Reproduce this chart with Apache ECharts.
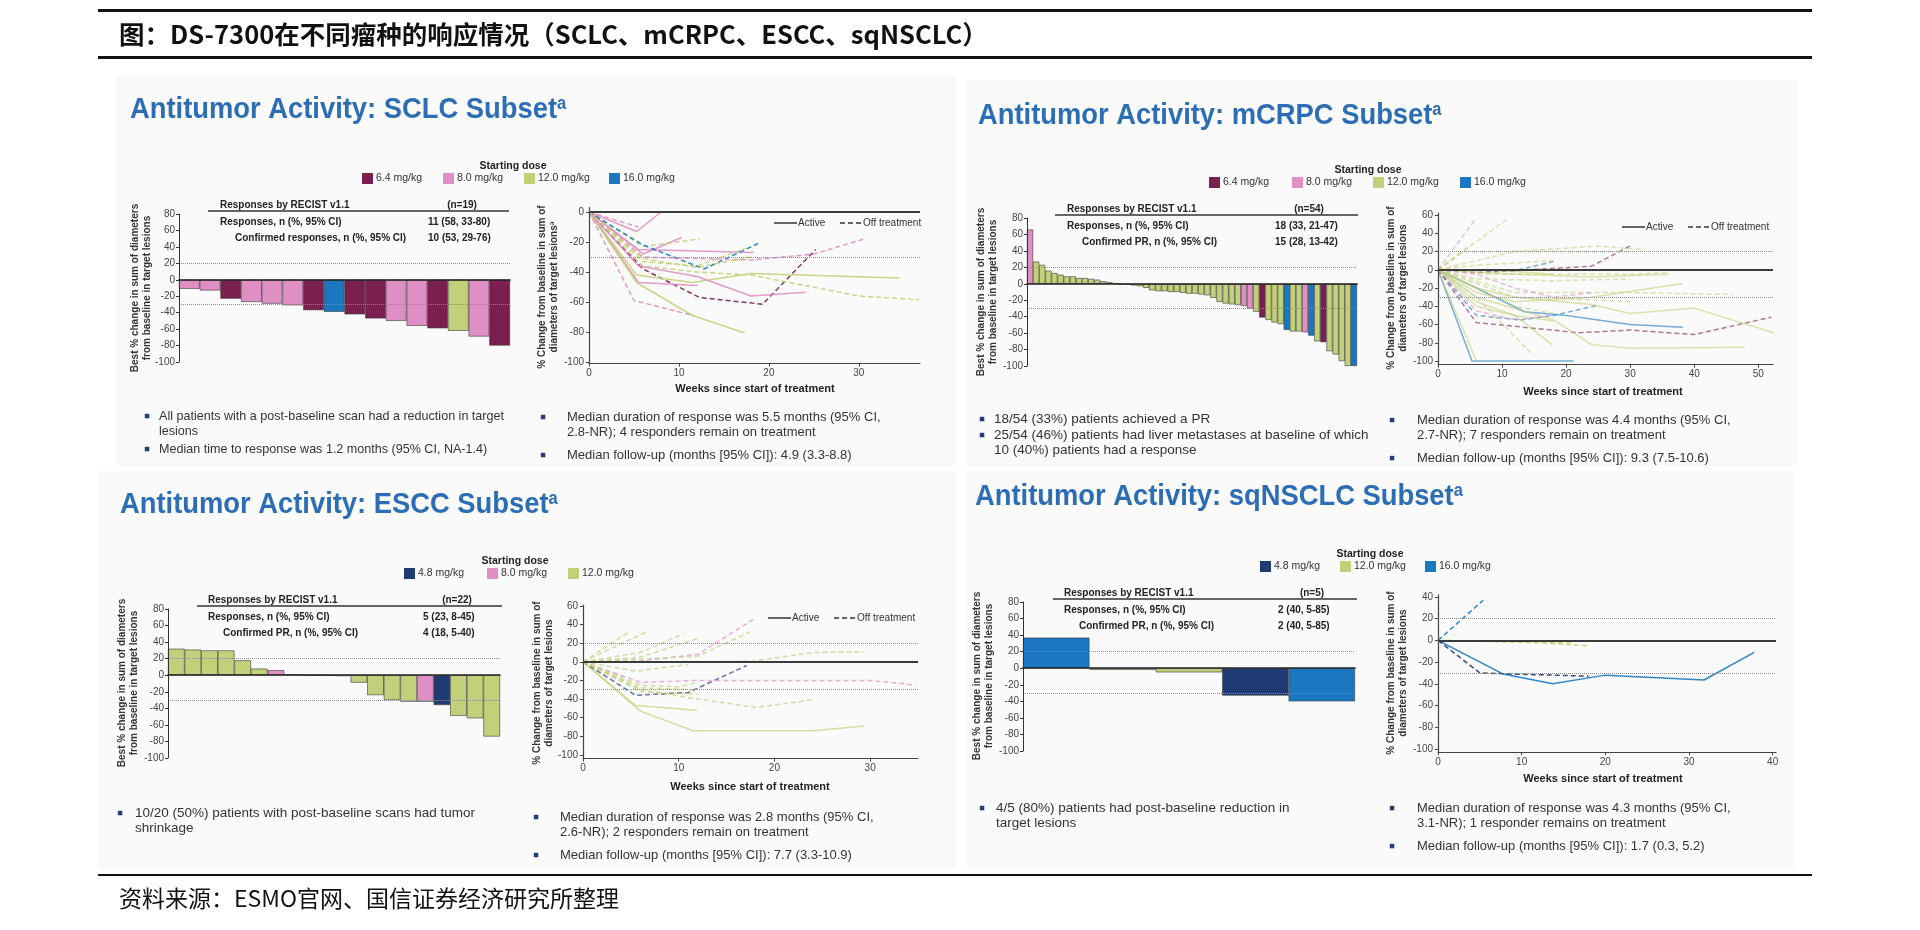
<!DOCTYPE html>
<html><head><meta charset="utf-8">
<script src="https://cdn.jsdelivr.net/npm/echarts@6/dist/echarts.min.js"></script>
<style>html,body{margin:0;padding:0;background:#fff;}#c{width:1920px;height:930px;}</style>
</head><body><div id="c"></div>
<script>
// ================= DATA =================
const doseLabels = ['4.8', '6.4', '8.0', '12.0', '16.0'];

// SCLC waterfall (best % change)
const sclcBarValues = [-11, -13, -23, -27, -29, -31, -37, -39, -42, -47, -50, -56, -59, -62, -69, -80];
const sclcBarDoses  = ['8.0','8.0','6.4','8.0','8.0','8.0','6.4','16.0','6.4','6.4','8.0','8.0','6.4','12.0','8.0','6.4'];

// mCRPC waterfall
const mcrpcBarValues = [66, 27, 23, 16, 13, 11, 9, 9, 7, 7, 6, 5, 3, 2,
  0.5, -1, -1, -2, -3, -5, -8, -9, -9, -10, -10, -11, -12, -12, -13, -14, -17, -22, -24, -25, -26,
  -27, -30, -34, -41, -44, -47, -49, -56, -58, -58, -59, -63, -70, -71, -82, -86, -94, -100, -100];
const mcrpcBarDoses = ['8.0',
  '12.0','12.0','12.0','12.0','12.0','12.0','12.0','12.0','12.0','12.0','12.0','12.0','12.0',
  '12.0','12.0','12.0','12.0','12.0','12.0','12.0','12.0','12.0','12.0','12.0','12.0','12.0','12.0','12.0','12.0','12.0','12.0','12.0','12.0','12.0',
  '8.0','8.0','12.0','6.4','12.0','12.0','12.0','16.0','12.0','12.0','8.0','16.0','12.0','6.4','12.0','12.0','12.0','12.0','16.0'];

// ESCC waterfall
const esccBarValues = [32, 31, 30, 30, 18, 8, 6, 1, 0, 0, -1, -9, -24, -30, -32, -32, -36, -49, -52, -74];
const esccBarDoses  = ['12.0','12.0','12.0','12.0','12.0','12.0','8.0','12.0','12.0','12.0','12.0','12.0','12.0','12.0','12.0','8.0','4.8','12.0','12.0','12.0'];

// sqNSCLC waterfall
const sqBarValues = [37, -2, -5, -33, -40];
const sqBarDoses  = ['16.0', '12.0', '12.0', '4.8', '16.0'];

// Spider plots: [dose, 'on' (active) | 'off' (off treatment), [[week, % change], ...]]
const sclcLines = [
  ['8.0','on',[[0,0],[5.3,-13],[8,0]]],
  ['8.0','off',[[0,0],[5.5,-10]]],
  ['8.0','on',[[0,0],[6,-28],[10.3,-17]]],
  ['12.0','off',[[0,0],[6,-23],[12.3,-18]]],
  ['8.0','on',[[0,0],[5.5,-25],[18.3,-27]]],
  ['16.0','off',[[0,0],[6,-22],[12.8,-38],[18.8,-21]]],
  ['12.0','off',[[0,0],[6,-33],[12,-36],[17.5,-24]]],
  ['8.0','off',[[0,0],[6,-30],[18,-32],[25,-28],[30.6,-18]]],
  ['6.4','off',[[0,0],[6,-38],[12.3,-57],[19.3,-61.5],[25.2,-25]]],
  ['12.0','on',[[0,0],[5.3,-42],[11.5,-47],[18,-41],[34.5,-44]]],
  ['12.0','off',[[0,0],[6,-36],[12,-40],[18,-42],[30,-56],[36.7,-58.5]]],
  ['8.0','on',[[0,0],[5.5,-47],[12.1,-49]]],
  ['8.0','on',[[0,0],[5.5,-36],[12,-43],[18,-56],[24.1,-53.5]]],
  ['12.0','on',[[0,0],[5.3,-47],[11.5,-69],[17.3,-80.7]]],
  ['8.0','off',[[0,0],[5,-59],[11.6,-69]]],
  ['12.0','off',[[0,0],[6,-31],[12,-37],[18,-30]]]
];
const mcrpcLines = [
  ['16.0','on',[[0,0],[5.3,-100],[21.2,-100]]],
  ['12.0','on',[[0,0],[6,-100]]],
  ['16.0','on',[[0,0],[6,-20],[13.5,-46],[20,-50],[30,-60],[38.2,-63]]],
  ['6.4','off',[[0,0],[6,-58],[12,-62],[22,-69],[30,-66],[40,-71],[52,-52]]],
  ['16.0','off',[[0,0],[6,-50],[13,-55],[18,-50],[24.9,-39]]],
  ['6.4','off',[[0,0],[6,-3],[12,-1],[24,4],[30.1,26.5]]],
  ['16.0','off',[[0,0],[12,-1],[18,9]]],
  ['8.0','off',[[0,0],[5.8,55]]],
  ['12.0','off',[[0,0],[10.7,55]]],
  ['12.0','off',[[0,0],[6,-30],[14.9,-94]]],
  ['12.0','on',[[0,0],[6,-35],[12,-50],[17.8,-82]]],
  ['12.0','on',[[0,0],[6,-30],[18,-55],[24,-82],[30,-86],[47.9,-85]]],
  ['12.0','on',[[0,0],[6,-20],[12,-30],[24,-38],[30,-48],[40,-42],[52.4,-69]]],
  ['12.0','on',[[0,0],[6,-25],[12,-35],[24,-30],[38.2,-15]]],
  ['12.0','off',[[0,0],[6,10],[12,20],[25,26],[32,22]]],
  ['12.0','off',[[0,0],[4,20],[12,20],[30,20]]],
  ['12.0','off',[[0,0],[12,-25],[30,-25],[46,-27]]],
  ['12.0','off',[[0,0],[6,5],[18,10]]],
  ['12.0','off',[[0,0],[8,-5],[30,-5],[36,-3]]],
  ['12.0','off',[[0,0],[6,-10],[18,-12],[30,-10]]],
  ['12.0','on',[[0,0],[6,-40],[12,-50],[18,-56]]],
  ['12.0','off',[[0,0],[6,-20],[12,-40],[18,-48]]],
  ['12.0','off',[[0,0],[5,27]]],
  ['12.0','on',[[0,0],[12,-5],[24,-8],[36,-5]]],
  ['8.0','off',[[0,0],[6,-45],[12,-55],[18,-50]]],
  ['12.0','off',[[0,0],[6,-15],[12,-30],[24,-33],[30,-35]]],
  ['12.0','on',[[0,0],[6,0],[12,-2],[18,-5]]],
  ['8.0','off',[[0,0],[6,-5],[12,-20],[18,-30],[24,-25]]]
];
const esccLines = [
  ['12.0','on',[[0,0],[5.5,-47],[11.9,-52]]],
  ['12.0','on',[[0,0],[6,-53],[11.5,-74],[24,-74],[29.4,-69]]],
  ['4.8','off',[[0,0],[5.5,-36],[11,-33],[17.1,-4]]],
  ['8.0','off',[[0,0],[6,-22],[12,-20],[24,-20],[30,-20],[34.8,-25]]],
  ['12.0','off',[[0,0],[6,-30],[12,-40],[18,-49],[24,-41]]],
  ['12.0','off',[[0,0],[5.5,-10],[11,-3]]],
  ['8.0','off',[[0,0],[6,1],[12,8],[18.1,47.5]]],
  ['12.0','off',[[0,0],[6,3],[12,6],[17.4,32]]],
  ['12.0','off',[[0,0],[4.8,32]]],
  ['12.0','off',[[0,0],[6.8,33]]],
  ['12.0','off',[[0,0],[6,10],[10.5,30]]],
  ['12.0','off',[[0,0],[6,5],[12,25]]],
  ['12.0','off',[[0,0],[12,0],[18,1],[24,10],[29.3,10.5]]],
  ['12.0','off',[[0,0],[6,-28],[12,-30]]],
  ['12.0','off',[[0,0],[6,-25],[10,-27],[12,-22]]],
  ['12.0','off',[[0,0],[6,-32],[12,-35]]]
];
const sqLines = [
  ['16.0','on',[[0,0],[7.8,-31],[13.7,-40],[20,-32],[31.8,-36.5],[37.8,-11]]],
  ['4.8','off',[[0,0],[5,-30],[18,-33]]],
  ['16.0','off',[[0,0],[5.4,37]]],
  ['12.0','off',[[0,0],[12,-2],[17.9,-5]]],
  ['12.0','off',[[0,0],[8,-1],[16,-2]]]
];

const spTicksY1 = [-100, -80, -60, -40, -20, 0];
const spTicksY2 = [-100, -80, -60, -40, -20, 0, 20, 40, 60];
const spTicksY3 = [-100, -80, -60, -40, -20, 0, 20, 40];
const spTicksX1 = [0, 10, 20, 30];
const spTicksX2 = [0, 10, 20, 30, 40, 50];
const spTicksX3 = [0, 10, 20, 30, 40];

// ================= STYLE / LAYOUT =================
const DOSE_COLORS = {'4.8':'#1f3b73','6.4':'#7b1f50','8.0':'#e08fc5','12.0':'#c3d07a','16.0':'#1b78c0'};
const SANS = "'Liberation Sans', Arial, Helvetica, sans-serif";
const CJK = "'Noto Sans CJK SC', sans-serif";
const BLUE = '#2c6db5';

const mctx = document.createElement('canvas').getContext('2d');
function fitScale(str, font, target) { mctx.font = font; return target / mctx.measureText(str).width; }
const TITLE_FONT = 'bold 30px ' + SANS;
const TITLE_SX = fitScale('Antitumor Activity: SCLC Subset', TITLE_FONT, 427);
const NARROW_FONT = 'normal 13.5px ' + SANS;
const NARROW_SX = fitScale('All patients with a post-baseline scan had a reduction in target', NARROW_FONT, 345);

const grids = [], xAxes = [], yAxes = [], series = [];

function addWaterfall(g, values, doses) {
  const idx = grids.length;
  grids.push({left: g[0], top: g[1], width: g[2], height: g[3]});
  xAxes.push({type:'category', gridIndex: idx, z: 5, data: values.map((v, i) => 'P' + (i + 1)),
    axisLine:{show:true, onZero:true, lineStyle:{color:'#222', width:1.6}},
    axisTick:{show:false}, axisLabel:{show:false}, splitLine:{show:false}});
  yAxes.push({type:'value', gridIndex: idx, z: 5, min:-100, max:80, interval:20,
    axisLine:{show:true, onZero:false, lineStyle:{color:'#333', width:1}},
    axisTick:{show:true, length:3, lineStyle:{color:'#333'}},
    axisLabel:{fontSize:10, color:'#444', margin:4, fontFamily:SANS},
    splitLine:{show:false}});
  series.push({type:'bar', xAxisIndex: idx, yAxisIndex: idx, barCategoryGap:'0%',
    data: values.map((v, i) => ({value: v, itemStyle:{color: DOSE_COLORS[doses[i]]}})),
    itemStyle:{borderColor:'#3a3a3a', borderWidth:0.6}, silent:true,
    markLine:{silent:true, symbol:'none', label:{show:false},
      lineStyle:{color:'#8a8a8a', type:'dotted', width:1},
      data:[{yAxis:20},{yAxis:-30}]}});
}

function addSpider(g, xr, yr, xTicks, yTicks, lines, refs, op) {
  const idx = grids.length;
  grids.push({left: g[0], top: g[1], width: g[2], height: g[3]});
  const axisCommon = (ticks) => ({
    z: 5,
    axisLine:{show:true, onZero:false, lineStyle:{color:'#444', width:1.2}},
    axisTick:{show:true, length:3, customValues: ticks, lineStyle:{color:'#444'}},
    axisLabel:{fontSize:10, color:'#444', margin:5, fontFamily:SANS, customValues: ticks},
    splitLine:{show:false}});
  xAxes.push(Object.assign({type:'value', gridIndex: idx, min: xr[0], max: xr[1]}, axisCommon(xTicks)));
  yAxes.push(Object.assign({type:'value', gridIndex: idx, min: yr[0], max: yr[1]}, axisCommon(yTicks)));
  const ml = {silent:true, symbol:'none', label:{show:false},
    data: [{yAxis:0, lineStyle:{color:'#3a3a3a', width:1.8, type:'solid'}}]
      .concat(refs.map(r => ({yAxis: r, lineStyle:{color:'#8a8a8a', width:1, type:'dotted'}})))};
  lines.forEach((ln, i) => {
    series.push({type:'line', xAxisIndex: idx, yAxisIndex: idx, data: ln[2], symbol:'none', silent:true,
      lineStyle:{color: DOSE_COLORS[ln[0]], width:1.5, opacity: op, type: ln[1] === 'off' ? [5, 3] : 'solid'},
      markLine: i === 0 ? ml : undefined, z: 3});
  });
}

addWaterfall([179, 214, 331, 148], sclcBarValues, sclcBarDoses);
addSpider([589, 207.5, 331, 156], [0, 36.8], [-101, 3], spTicksX1, spTicksY1, sclcLines, [-30], 0.9);
addWaterfall([1027, 218, 330, 148], mcrpcBarValues, mcrpcBarDoses);
addSpider([1438, 213.2, 335, 151.5], [0, 52.3], [-104, 62], spTicksX2, spTicksY2, mcrpcLines, [20, -30], 0.6);
addWaterfall([168, 609, 332, 149], esccBarValues, esccBarDoses);
addSpider([583, 605, 335, 153.6], [0, 35], [-104, 61], spTicksX1, spTicksY2, esccLines, [20, -30], 0.7);
addWaterfall([1023, 602, 332, 149], sqBarValues, sqBarDoses);
addSpider([1438, 594.8, 338, 157.4], [0, 40.4], [-103, 42], spTicksX3, spTicksY3, sqLines, [20, -30], 0.9);

// ================= GRAPHICS (text, rules, legends) =================
const G = [];
function rect(x, y, w, h, fill, z) { G.push({type:'rect', silent:true, z: z, shape:{x, y, width:w, height:h}, style:{fill}}); }
function line(x1, y1, x2, y2, stroke, w, dash) { G.push({type:'line', silent:true, z: 8, shape:{x1, y1, x2, y2}, style:{stroke, lineWidth: w, lineDash: dash || null}}); }
function text(x, y, s, o) {
  o = o || {};
  const st = {text: s, fill: o.color || '#333',
    font: (o.weight || 'normal') + ' ' + (o.size || 10) + 'px ' + (o.family || SANS),
    textAlign: o.align || 'left', textVerticalAlign: o.valign || 'middle',
    align: o.align || 'left', verticalAlign: o.valign || 'middle'};
  if (o.lh) st.lineHeight = o.lh;
  const el = {type:'text', silent:true, z: 10, x, y, rotation: o.rot || 0, style: st};
  if (o.sx) el.scaleX = o.sx;
  G.push(el);
}
function title(x, y, s) {
  G.push({type:'text', silent:true, z: 10, x, y, scaleX: TITLE_SX, style:{
    text: '{t|' + s + '}{s|a}', textVerticalAlign:'middle', verticalAlign:'middle',
    rich:{t:{fontSize:30, fontWeight:'bold', fontFamily: SANS, fill: BLUE},
          s:{fontSize:18, fontWeight:'bold', fontFamily: SANS, fill: BLUE, verticalAlign:'top'}}}});
}
function legend(cx, cy, xs, doses) {
  text(cx, cy - 12, 'Starting dose', {size:10.5, weight:'bold', color:'#222', align:'center'});
  doses.forEach((d, i) => {
    rect(xs[i], cy - 5, 11, 11, DOSE_COLORS[d], 6);
    text(xs[i] + 14, cy + 0.5, d + ' mg/kg', {size:10.5, color:'#333'});
  });
}
function table(x1, x2, lx, vx, hy, n, rows) {
  text(lx, hy, 'Responses by RECIST v1.1', {size:10, weight:'bold', color:'#222'});
  text(vx + 34, hy, n, {size:10, weight:'bold', color:'#222', align:'center'});
  line(x1, hy + 6, x2, hy + 6, '#333', 1.3);
  text(lx, hy + 17, rows[0][0], {size:10, weight:'bold', color:'#222'});
  text(vx, hy + 17, rows[0][1], {size:10, weight:'bold', color:'#222'});
  text(lx + 15, hy + 33, rows[1][0], {size:10, weight:'bold', color:'#222'});
  text(vx, hy + 33, rows[1][1], {size:10, weight:'bold', color:'#222'});
}
function bullets(bx, tx, items, o) {
  items.forEach(it => {
    rect(bx - 2.2, it[1] - 2.2, 4.5, 4.5, '#243f73', 6);
    it[0].forEach((s, k) => text(tx, it[1] + k * 15.5, s, Object.assign({size:13, color:'#333'}, o || {})));
  });
}
function spiderLegend(x, y) {
  line(x, y, x + 23, y, '#333', 1.5);
  text(x + 24, y, 'Active', {size:10, color:'#333'});
  line(x + 66, y, x + 88, y, '#333', 1.5, [5, 3]);
  text(x + 89, y, 'Off treatment', {size:10, color:'#333'});
}
const WF_YT = 'Best % change in sum of diameters\nfrom baseline in target lesions';
const SP_YT = '% Change from baseline in sum of\ndiameters of target lesions';
function rotTitle(x, y, s) { text(x, y, s, {size:10, weight:'bold', color:'#333', align:'center', rot: Math.PI / 2, lh:12}); }

// panel backgrounds
rect(116, 76, 840, 390, '#fafafa', -10);
rect(967, 80, 830, 386, '#fafafa', -10);
rect(98, 471, 858, 398, '#fafafa', -10);
rect(967, 471, 828, 398, '#fafafa', -10);

// page header / footer
rect(98, 9, 1714, 3, '#111', 2);
text(119, 34, '图：DS-7300在不同瘤种的响应情况（SCLC、mCRPC、ESCC、sqNSCLC）', {size:25.5, weight:'bold', color:'#111', family: CJK});
rect(98, 56, 1714, 3, '#111', 2);
rect(98, 874, 1714, 2, '#111', 2);
text(119, 898, '资料来源：ESMO官网、国信证券经济研究所整理', {size:23, color:'#111', family: CJK});

// SCLC
title(130, 110, 'Antitumor Activity: SCLC Subset');
legend(513, 178, [362, 443, 524, 609], ['6.4', '8.0', '12.0', '16.0']);
table(208, 509, 220, 428, 205, '(n=19)', [['Responses, n (%, 95% CI)', '11 (58, 33-80)'], ['Confirmed responses, n (%, 95% CI)', '10 (53, 29-76)']]);
rotTitle(141, 288, WF_YT);
rotTitle(548, 287, SP_YT + 'ª');
spiderLegend(774, 223);
text(755, 389, 'Weeks since start of treatment', {size:11, weight:'bold', color:'#222', align:'center'});
bullets(147, 159, [[['All patients with a post-baseline scan had a reduction in target', 'lesions'], 416], [['Median time to response was 1.2 months (95% CI, NA-1.4)'], 449]], {size:13.5, sx: NARROW_SX});
bullets(543, 567, [[['Median duration of response was 5.5 months (95% CI,', '2.8-NR); 4 responders remain on treatment'], 417], [['Median follow-up (months [95% CI]): 4.9 (3.3-8.8)'], 455]]);

// mCRPC
title(978, 116, 'Antitumor Activity: mCRPC Subset');
legend(1368, 182, [1209, 1292, 1373, 1460], ['6.4', '8.0', '12.0', '16.0']);
table(1055, 1358, 1067, 1275, 209, '(n=54)', [['Responses, n (%, 95% CI)', '18 (33, 21-47)'], ['Confirmed PR, n (%, 95% CI)', '15 (28, 13-42)']]);
rotTitle(987, 292, WF_YT);
rotTitle(1397, 288, SP_YT);
spiderLegend(1622, 227);
text(1603, 392, 'Weeks since start of treatment', {size:11, weight:'bold', color:'#222', align:'center'});
bullets(982, 994, [[['18/54 (33%) patients achieved a PR'], 419], [['25/54 (46%) patients had liver metastases at baseline of which', '10 (40%) patients had a response'], 435]], {size:13.5});
bullets(1392, 1417, [[['Median duration of response was 4.4 months (95% CI,', '2.7-NR); 7 responders remain on treatment'], 420], [['Median follow-up (months [95% CI]): 9.3 (7.5-10.6)'], 458]]);

// ESCC
title(120, 505, 'Antitumor Activity: ESCC Subset');
legend(515, 573, [404, 487, 568], ['4.8', '8.0', '12.0']);
table(197, 502, 208, 423, 600, '(n=22)', [['Responses, n (%, 95% CI)', '5 (23, 8-45)'], ['Confirmed PR, n (%, 95% CI)', '4 (18, 5-40)']]);
rotTitle(128, 683, WF_YT);
rotTitle(543, 683, SP_YT);
spiderLegend(768, 618);
text(750, 787, 'Weeks since start of treatment', {size:11, weight:'bold', color:'#222', align:'center'});
bullets(120, 135, [[['10/20 (50%) patients with post-baseline scans had tumor', 'shrinkage'], 813]], {size:13.5});
bullets(536, 560, [[['Median duration of response was 2.8 months (95% CI,', '2.6-NR); 2 responders remain on treatment'], 817], [['Median follow-up (months [95% CI]): 7.7 (3.3-10.9)'], 855]]);

// sqNSCLC
title(975, 497, 'Antitumor Activity: sqNSCLC Subset');
legend(1370, 566, [1260, 1340, 1425], ['4.8', '12.0', '16.0']);
table(1053, 1357, 1064, 1278, 593, '(n=5)', [['Responses, n (%, 95% CI)', '2 (40, 5-85)'], ['Confirmed PR, n (%, 95% CI)', '2 (40, 5-85)']]);
rotTitle(983, 676, WF_YT);
rotTitle(1397, 673, SP_YT);
text(1603, 779, 'Weeks since start of treatment', {size:11, weight:'bold', color:'#222', align:'center'});
bullets(982, 996, [[['4/5 (80%) patients had post-baseline reduction in', 'target lesions'], 808]], {size:13.5});
bullets(1392, 1417, [[['Median duration of response was 4.3 months (95% CI,', '3.1-NR); 1 responder remains on treatment'], 808], [['Median follow-up (months [95% CI]): 1.7 (0.3, 5.2)'], 846]]);

// ================= CHART =================
const chart = echarts.init(document.getElementById('c'));
chart.setOption({
  animation: false,
  backgroundColor: '#ffffff',
  grid: grids, xAxis: xAxes, yAxis: yAxes, series: series,
  graphic: {elements: G}
});
</script></body></html>
